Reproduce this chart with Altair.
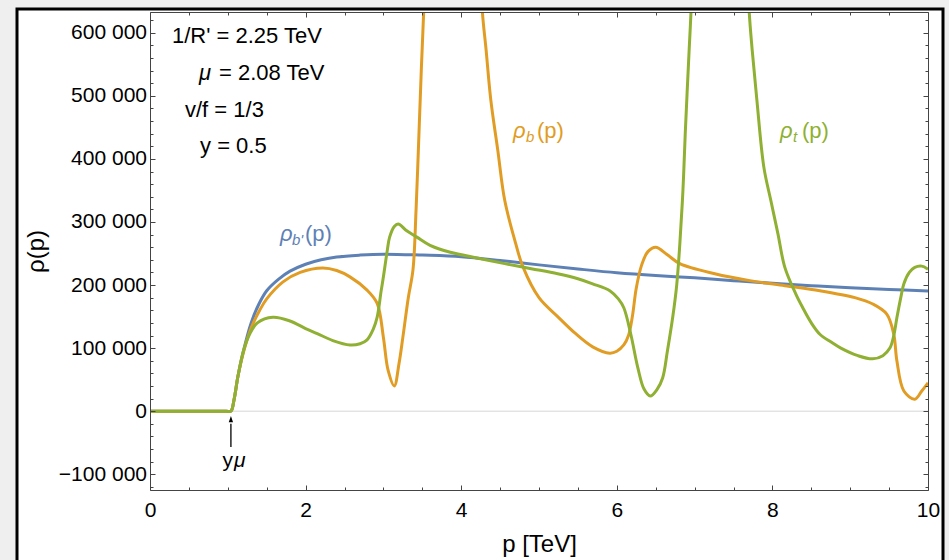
import altair as alt
import pandas as pd

# ---------------- data ----------------
blue_p = [0, 0.5, 0.98, 1.04, 1.08, 1.13, 1.2, 1.3, 1.4, 1.5, 1.65, 1.8, 2.0, 2.2, 2.4, 2.7, 3.0,
          3.5, 4.0, 4.5, 5.0, 5.5, 6.0, 6.5, 7.0, 7.5, 8.0, 8.5, 9.0, 9.5, 10.0]
blue_rho = [0, 0, 0, 0, 18000, 55000, 95000, 140000, 170000, 191000, 209000, 222000, 233000,
            240000, 244500, 247500, 249000, 247500, 245000, 239000, 232000, 225500, 219500,
            215000, 211500, 207000, 202700, 199000, 195700, 193000, 190500]

orange_p = [0, 0.5, 0.98, 1.04, 1.08, 1.13, 1.2, 1.3, 1.41, 1.5, 1.71, 1.93, 2.22, 2.4, 2.57, 2.79,
            2.92, 3.0, 3.06, 3.14, 3.2, 3.25, 3.32, 3.38, 3.42, 3.46, 3.49, 3.52, 3.56,
            4.22, 4.27, 4.32, 4.38, 4.47, 4.56, 4.70, 4.79, 5.0, 5.24, 5.46, 5.69, 5.91,
            6.0, 6.09, 6.15, 6.2, 6.25, 6.32, 6.4, 6.5, 6.65, 6.81, 7.26, 7.71, 8.16, 8.61,
            9.06, 9.29, 9.47, 9.56, 9.6, 9.69, 9.83, 9.92, 10.0]
orange_rho = [0, 0, 0, 0, 18000, 55000, 93000, 132000, 160000, 178000, 205000, 220000, 227000,
              223000, 213000, 192000, 171000, 117000, 65000, 40000, 75000, 117000, 180000,
              224000, 320000, 450000, 550000, 640000, 800000,
              800000, 637000, 573000, 494000, 414000, 334000, 266000, 230000, 180000,
              150000, 124000, 102000, 92000, 95000, 105000, 120000, 150000, 195000, 232000,
              253000, 260000, 248000, 234000, 218000, 207000, 199000, 191000, 180000,
              170000, 154000, 122000, 80000, 32000, 19000, 32000, 45000]

green_p = [0, 0.5, 0.98, 1.04, 1.08, 1.13, 1.2, 1.28, 1.38, 1.58, 1.8, 2.0, 2.15, 2.35, 2.57, 2.7,
           2.79, 2.87, 2.92, 2.97, 3.0, 3.05, 3.08, 3.14, 3.19, 3.3, 3.43, 3.6, 3.86, 4.2,
           4.56, 4.9, 5.24, 5.5, 5.69, 5.91, 6.02, 6.09, 6.18, 6.27, 6.35, 6.43, 6.52,
           6.59, 6.65, 6.72, 6.77, 6.81, 6.85, 6.88, 6.93, 6.96, 7.0,
           7.65, 7.70, 7.74, 7.80, 7.89, 7.98, 8.07, 8.16, 8.30, 8.39, 8.5, 8.61, 8.75,
           8.88, 9.1, 9.29, 9.42, 9.51, 9.56, 9.60, 9.65, 9.69, 9.76, 9.83, 9.92, 10.0]
green_rho = [0, 0, 0, 0, 18000, 55000, 95000, 122000, 140000, 149000, 143000, 131000, 123000,
             112000, 105000, 107000, 113000, 130000, 149000, 190000, 213000, 255000,
             276000, 293000, 297000, 286000, 276000, 263000, 252000, 243000, 234000,
             226000, 218000, 210000, 202000, 191000, 178000, 164000, 122000, 69000,
             35000, 24000, 35000, 53000, 95000, 150000, 200000, 265000, 350000, 441000,
             573000, 650000, 800000,
             800000, 637000, 573000, 494000, 387000, 334000, 282000, 228000, 186000,
             164000, 140000, 122000, 110000, 100000, 88000, 83000, 88000, 100000, 120000,
             148000, 180000, 202000, 220000, 228000, 230000, 225000]

x_major = [0, 2, 4, 6, 8, 10]
x_ticks = [0, 0.5, 1, 1.5, 2, 2.5, 3, 3.5, 4, 4.5, 5, 5.5, 6, 6.5, 7, 7.5, 8, 8.5, 9, 9.5, 10]
y_major = [-100000, 0, 100000, 200000, 300000, 400000, 500000, 600000]
y_ticks = list(range(-120000, 620001, 20000))

# annotation texts
param_text = ["1/R' = 2.25 TeV", "= 2.08 TeV", "v/f = 1/3", "y = 0.5"]
param_x = [0.283, 0.887, 0.45, 0.643]
param_y = [584000, 525000, 466000, 409000]
mu_text = ["μ"]
mu_x = [0.63]
mu_y = [525000]

curve_labels = [
    # (x, y, subscript, colour, sub_dx, paren_dx)
    (1.671, 270600, "b'", "#5E81B5", 12, 25),
    (4.666, 432500, "b", "#E19C24", 13, 24),
    (8.098, 432500, "t", "#8FB032", 13, 22),
]

# ---------------- styling ----------------
W, H = 778, 478
FONT = "Liberation Sans"
FRAME = "#444444"
BLUE, ORANGE, GREEN = "#5E81B5", "#E19C24", "#8FB032"
INTERP = "catmull-rom"

xs = alt.Scale(domain=[0, 10], nice=False, zero=False)
ys = alt.Scale(domain=[-125000, 633000], nice=False, zero=False)

x_tsize = {"condition": {"test": "datum.value % 2 === 0", "value": 5}, "value": 3}
y_tsize = {"condition": {"test": "datum.value % 100000 === 0", "value": 5}, "value": 3}

common = dict(grid=False, zindex=1, domainColor=FRAME, domainWidth=1,
              tickColor=FRAME, tickWidth=1)

ax_x_main = alt.Axis(orient="bottom", values=x_major, format="d", ticks=False, tickSize=0,
                     domain=True, labelFont=FONT, labelFontSize=21, labelColor="black",
                     labelPadding=26, labelBaseline="alphabetic", labelFlush=False,
                     labelOverlap=False,
                     title="p [TeV]", titleFont=FONT, titleFontSize=24,
                     titleFontWeight="normal", titleColor="black", titleX=W / 2, titleY=61,
                     titleAlign="center", titleBaseline="alphabetic", **common)
ax_x_low = alt.Axis(orient="top", offset=-H, values=x_ticks, labels=False, domain=False,
                    ticks=True, tickSize=x_tsize, title=None, **common)
ax_x_up = alt.Axis(orient="bottom", offset=-H, values=x_ticks, labels=False, domain=True,
                   ticks=True, tickSize=x_tsize, title=None, **common)

ax_y_main = alt.Axis(orient="left", values=y_major, ticks=False, tickSize=0, domain=True,
                     labelExpr="replace(format(datum.value, ','), ',', ' ')",
                     labelFont=FONT, labelFontSize=21, labelColor="black", labelPadding=3.5,
                     labelOverlap=False,
                     title="ρ(p)", titleFont=FONT, titleFontSize=24, titleFontWeight="normal",
                     titleColor="black", titleX=-107, titleY=239, titleAngle=270,
                     titleAlign="center", titleBaseline="alphabetic", **common)
ax_y_lft = alt.Axis(orient="right", offset=-W, values=y_ticks, labels=False, domain=False,
                    ticks=True, tickSize=y_tsize, title=None, **common)
ax_y_rgt = alt.Axis(orient="left", offset=-W, values=y_ticks, labels=False, domain=True,
                    ticks=True, tickSize=y_tsize, title=None, **common)

# ---------------- layers ----------------
frame = alt.Chart(alt.Data(values=[{"k": 1}])).mark_rect(
    fill="white", stroke="black", strokeWidth=3
).encode(x=alt.value(-133), x2=alt.value(793), y=alt.value(-3), y2=alt.value(560))

zero = alt.Chart(pd.DataFrame({"y": [0]})).mark_rule(color="#d6d6d6", strokeWidth=1).encode(
    y=alt.Y("y:Q", scale=ys, axis=None))


def curve(p, rho, color, axx, axy):
    df = pd.DataFrame({"p": p, "rho": rho})
    return alt.Chart(df).mark_line(color=color, strokeWidth=3, clip=True,
                                   interpolate=INTERP).encode(
        x=alt.X("p:Q", scale=xs, axis=axx),
        y=alt.Y("rho:Q", scale=ys, axis=axy),
    )


blue_line = curve(blue_p, blue_rho, BLUE, ax_x_main, ax_y_main)
orange_line = curve(orange_p, orange_rho, ORANGE, ax_x_low, ax_y_lft)
green_line = curve(green_p, green_rho, GREEN, ax_x_up, ax_y_rgt)


def text_layer(xv, yv, tv, size=22, color="black", style="normal", dx=0, dy=0, align="left"):
    df = pd.DataFrame({"x": xv, "y": yv, "t": tv})
    return alt.Chart(df).mark_text(font=FONT, fontSize=size, color=color, fontStyle=style,
                                   align=align, baseline="alphabetic", dx=dx, dy=dy).encode(
        x=alt.X("x:Q", scale=xs, axis=None),
        y=alt.Y("y:Q", scale=ys, axis=None),
        text="t:N",
    )


texts = [
    text_layer(param_x, param_y, param_text),
    text_layer(mu_x, mu_y, mu_text, style="italic"),
]
for (lx, ly, sub, col, sdx, pdx) in curve_labels:
    texts.append(text_layer([lx], [ly], ["ρ"], color=col, style="italic"))
    texts.append(text_layer([lx], [ly], [sub], size=15, color=col, style="italic", dx=sdx, dy=4))
    texts.append(text_layer([lx], [ly], ["(p)"], color=col, dx=pdx))

# y-mu marker
ymu_x = [1.067]
ymu_y = [-88900]
texts.append(text_layer(ymu_x, ymu_y, ["y"], size=21, align="right"))
texts.append(text_layer(ymu_x, ymu_y, ["μ"], size=21, style="italic", dx=1))

arrow_df = pd.DataFrame({"x": [1.04], "y": [-57000], "y2": [-20000], "yh": [-12700]})
shaft = alt.Chart(arrow_df).mark_rule(color="black", strokeWidth=1.3).encode(
    x=alt.X("x:Q", scale=xs, axis=None), y=alt.Y("y:Q", scale=ys, axis=None), y2="y2:Q")
head = alt.Chart(arrow_df).mark_point(shape="M-0.35,0.5L0,-0.5L0.35,0.5Z", filled=True,
                                      size=150, color="black", opacity=1).encode(
    x=alt.X("x:Q", scale=xs, axis=None), y=alt.Y("yh:Q", scale=ys, axis=None))

chart = alt.layer(frame, zero, blue_line, orange_line, green_line, *texts, shaft, head).resolve_axis(
    x="independent", y="independent"
).properties(
    width=W, height=H,
    padding={"left": 150, "top": 12, "right": 21, "bottom": 70},
    autosize=alt.AutoSizeParams(type="none"),
    background="#efefef",
).configure_view(stroke=None)

chart.save("out.html", embed_options={"renderer": "svg", "actions": False})
